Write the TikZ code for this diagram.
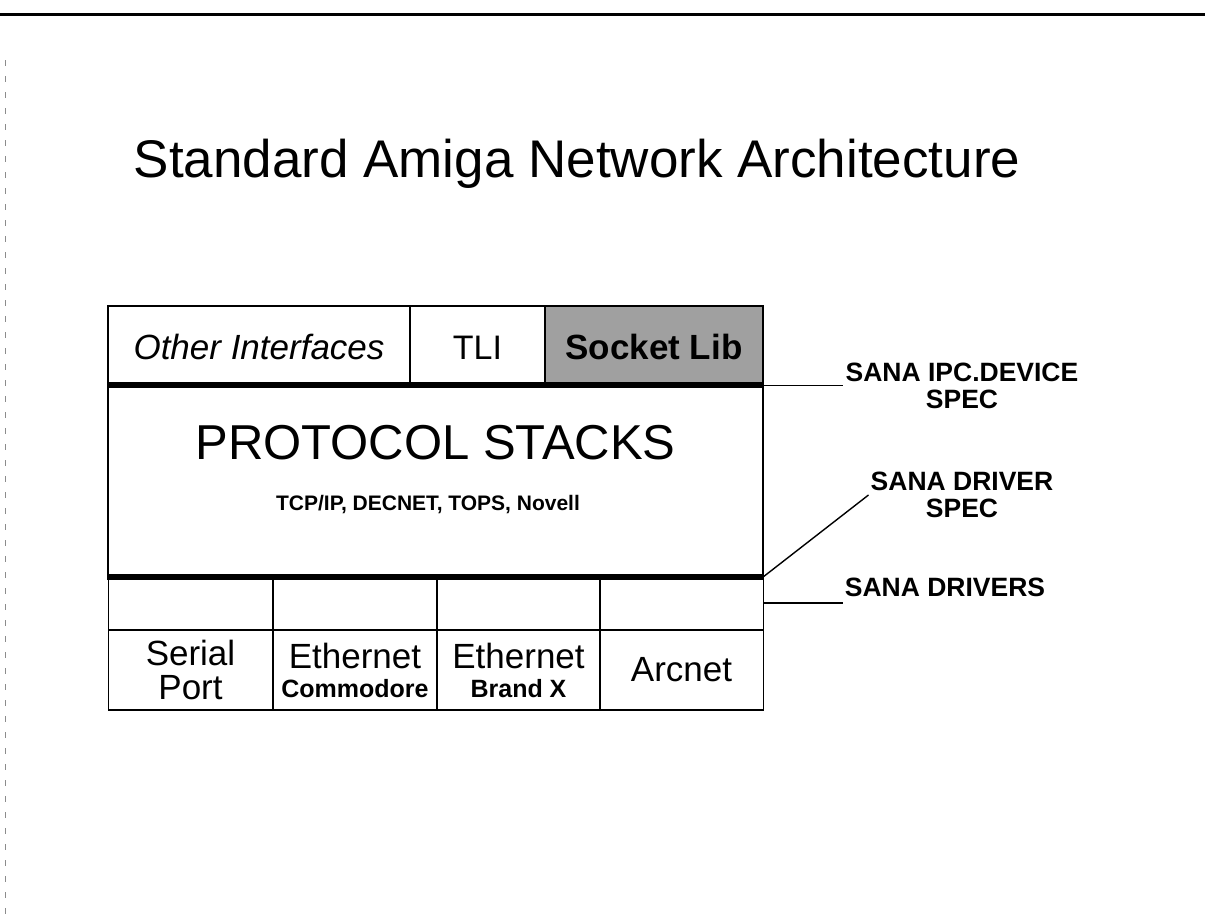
\documentclass[tikz,border=0pt]{standalone}
\usepackage{fontspec}
\setmainfont{Liberation Sans}
\usetikzlibrary{positioning}
\definecolor{stipplegray}{RGB}{160,160,160}

\tikzset{
  cell/.style={rectangle, draw=black, line width=1.2pt, inner sep=0pt, minimum height=80pt},
  toprow/.style={cell, text height=26pt, text depth=0pt},
  sepline/.style={line width=6pt},
  leader/.style={line width=1.4pt},
  speclabel/.style={align=center, inner sep=2pt, font=\bfseries\fontsize{26.5}{27}\selectfont},
  bigword/.style={align=center, font=\fontsize{35}{34}\selectfont}
}

\begin{document}
\begin{tikzpicture}[x=1pt, y=-1pt]
  \useasboundingbox (0,0) rectangle (1205,921);
  % page rule and scan edge
  \draw[line width=3pt] (0,14) -- (1205,14);
  \draw[black!45, line width=1pt, dash pattern=on 6pt off 10pt] (5,60) -- (5,915);

  \node[font=\fontsize{53}{60}\selectfont] (title) at (577,164) {Standard Amiga Network Architecture};

  % interface row
  \node[toprow, minimum width=302pt, font=\itshape\fontsize{35}{40}\selectfont] (other) at (259,346) {Other Interfaces};
  \node[toprow, minimum width=135pt, font=\fontsize{34}{40}\selectfont] (tli) at (477.5,346) {TLI};
  \node[toprow, minimum width=218pt, fill=stipplegray, font=\bfseries\fontsize{35}{40}\selectfont] (socket) at (654,346) {Socket Lib};

  % protocol stacks
  \node[cell, minimum width=655pt, minimum height=190pt] (stacks) at (435.5,481) {};
  \node[font=\fontsize{49}{54}\selectfont] (stackname) at (435.5,443) {PROTOCOL STACKS};
  \node[font=\bfseries\fontsize{21}{26}\selectfont] (protos) at (428,505) {TCP/IP, DECNET, TOPS, Novell};

  % driver row
  \foreach \i/\x in {1/190.5, 2/355, 3/518.5, 4/681.5}
    \node[cell, minimum width=164pt, minimum height=54pt] (drv\i) at (\x,603) {};

  % hardware row
  \node[cell, bigword, minimum width=164pt] (serial) at (190.5,670) {Serial\\Port};
  \node[cell, bigword, minimum width=164pt] (ethc) at (355,670)
    {Ethernet\\[-5pt]\bfseries\fontsize{25}{28}\selectfont Commodore};
  \node[cell, bigword, minimum width=164pt] (ethx) at (518.5,670)
    {Ethernet\\[-5pt]\bfseries\fontsize{25}{28}\selectfont Brand X};
  \node[cell, bigword, minimum width=164pt] (arcnet) at (681.5,670) {Arcnet};

  \draw[sepline] (stacks.north west) -- (stacks.north east);
  \draw[sepline] (stacks.south west) -- (stacks.south east);

  % spec labels
  \node[speclabel] (ipcspec) at (962,386) {SANA IPC.DEVICE\\SPEC};
  \node[speclabel] (drvspec) at (962,495) {SANA DRIVER\\SPEC};
  \node[speclabel] (drivers) at (945,587) {SANA DRIVERS};

  \draw[leader] (stacks.north east) -- (stacks.north east -| ipcspec.west);
  \draw[leader] (stacks.south east) -- (drvspec.west);
  \draw[leader] (drv4.east) -- (drv4.east -| drivers.west);
\end{tikzpicture}
\end{document}
